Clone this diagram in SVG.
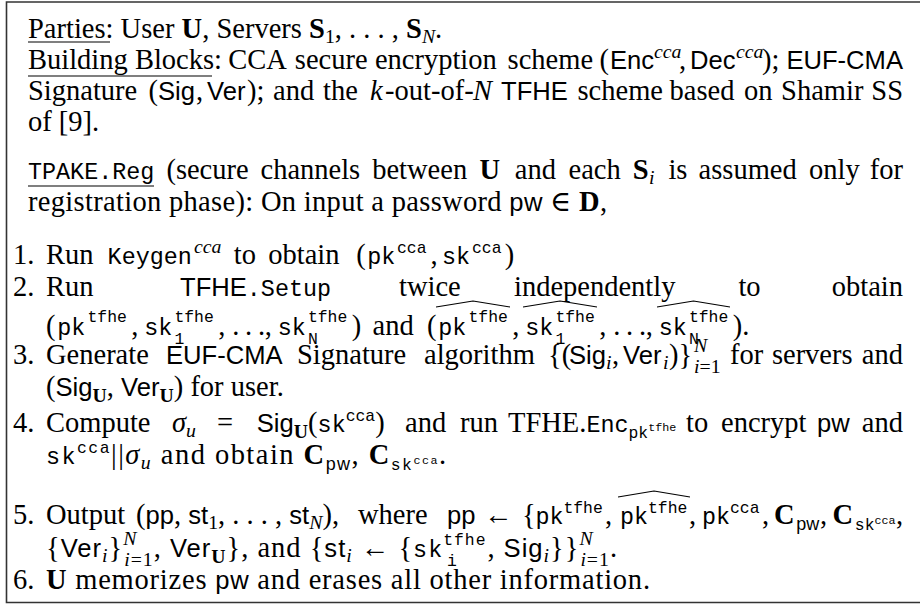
<svg xmlns="http://www.w3.org/2000/svg" width="920" height="604" viewBox="0 0 920 604">
<style>
  text { font-family: "Liberation Serif", "DejaVu Serif", serif; font-size: 28.5px; fill: #000; }
  .sf { font-family: "Liberation Sans", "DejaVu Sans", sans-serif; font-size: 25.6px; }
  .tt { font-family: "Liberation Mono", "DejaVu Sans Mono", monospace; font-size: 23.4px; }
  .bf { font-weight: bold; }
  .it { font-style: italic; }
  .sc { font-size: 19.8px; }
  .scs { font-family: "Liberation Sans", "DejaVu Sans", sans-serif; font-size: 18px; }
  .sct { font-family: "Liberation Mono", "DejaVu Sans Mono", monospace; font-size: 16.4px; }
  .scct { font-family: "Liberation Mono", "DejaVu Sans Mono", monospace; font-size: 11.7px; }
  .rule { stroke: #000; stroke-width: 1.2; fill: none; }
  .frame { stroke: #333; stroke-width: 1.6; fill: none; }
  .hat { stroke: #000; stroke-width: 1.2; fill: none; stroke-linejoin: round; }
</style>

<!-- frame, open on the right -->
<g id="frame">
  <path class="frame" d="M920,2 H6.5 V602.5 H920"/>
</g>

<!-- parties and building blocks -->
<g id="parties">
  <text x="28" y="38">Parties: User <tspan class="bf">U</tspan>, Servers <tspan class="bf">S</tspan><tspan class="sc" y="43">1</tspan><tspan y="38">, . . . , </tspan><tspan class="bf">S</tspan><tspan class="sc it" y="43">N</tspan><tspan y="38">.</tspan></text>
  <line class="rule" x1="28" y1="42" x2="110" y2="42"/>
</g>

<g id="blocks">
  <text y="69"><tspan x="28">Building Blocks:</tspan><tspan x="228.3">CCA</tspan><tspan x="294.8">secure</tspan><tspan x="374.9">encryption</tspan><tspan x="507.6">scheme</tspan><tspan x="599.5">(</tspan><tspan class="sf" x="609.9">Enc</tspan><tspan class="sc it" x="654" y="58">cca</tspan><tspan x="679" y="69">,</tspan><tspan class="sf" x="690">Dec</tspan><tspan class="sc it" x="736" y="58">cca</tspan><tspan x="762" y="69">);</tspan><tspan class="sf" x="903" text-anchor="end">EUF-CMA</tspan></text>
  <line class="rule" x1="28" y1="76" x2="212" y2="76"/>
  <text y="100"><tspan x="28">Signature</tspan><tspan x="148.6">(</tspan><tspan class="sf" x="158">Sig</tspan><tspan x="196">,</tspan><tspan class="sf" x="207">Ver</tspan><tspan x="247">);</tspan><tspan x="273">and</tspan><tspan x="323">the</tspan><tspan class="it" x="370">k</tspan><tspan x="385">-out-of-</tspan><tspan class="it" x="473">N</tspan><tspan class="sf" x="501">TFHE</tspan><tspan x="577.5">scheme</tspan><tspan x="669.5">based</tspan><tspan x="744">on</tspan><tspan x="781.1">Shamir</tspan><tspan x="903" text-anchor="end">SS</tspan></text>
  <text x="28" y="131">of [9].</text>
</g>

<!-- registration paragraph -->
<g id="reg-intro">
  <text y="179"><tspan class="tt" x="28">TPAKE.Reg</tspan><tspan x="166.4">(secure</tspan><tspan x="260.5">channels</tspan><tspan x="372.2">between</tspan><tspan class="bf" x="479.4">U</tspan><tspan x="514.8">and</tspan><tspan x="568.5">each</tspan><tspan class="bf" x="632.7">S</tspan><tspan class="sc it" x="649" y="184">i</tspan><tspan x="668.4" y="179">is</tspan><tspan x="698.6">assumed</tspan><tspan x="809">only</tspan><tspan x="903" text-anchor="end">for</tspan></text>
  <line class="rule" x1="28" y1="186" x2="154" y2="186"/>
  <text x="28" y="211" textLength="579" lengthAdjust="spacing">registration phase): On input a password <tspan class="sf">pw</tspan> ∈ <tspan class="bf">D</tspan>,</text>
</g>

<!-- step 1 -->
<g id="step1">
  <text x="13" y="264">1.</text>
  <text y="264"><tspan x="46">Run</tspan><tspan class="tt" x="107.6">Keygen</tspan><tspan class="sc it" x="194" y="253">cca</tspan><tspan x="233.8" y="264">to</tspan><tspan x="268.3">obtain</tspan><tspan x="356.3">(</tspan><tspan class="tt" x="367.3">pk</tspan><tspan class="sct" x="397" y="253">cca</tspan><tspan x="430.6" y="264">,</tspan><tspan class="tt" x="442">sk</tspan><tspan class="sct" x="472" y="253">cca</tspan><tspan x="504.8" y="264">)</tspan></text>
</g>

<!-- step 2 -->
<g id="step2">
  <text x="13" y="296">2.</text>
  <text y="296"><tspan x="46">Run</tspan><tspan class="sf" x="180">TFHE</tspan><tspan class="tt">.Setup</tspan><tspan x="399">twice</tspan><tspan x="514">independently</tspan><tspan x="738.4">to</tspan><tspan x="903" text-anchor="end">obtain</tspan></text>
  <text y="335"><tspan x="46">(</tspan><tspan class="tt" x="57.2">pk</tspan><tspan class="sct" x="87.5" y="322">tfhe</tspan><tspan x="131.3" y="335">,</tspan><tspan class="tt" x="144.2">sk</tspan><tspan class="sct" x="174.4" y="322">tfhe</tspan><tspan class="sct" x="174.4" y="343.5">1</tspan><tspan x="218.3" y="335">,</tspan><tspan x="232.2">.</tspan><tspan x="245">.</tspan><tspan x="257.9">.</tspan><tspan x="264.8">,</tspan><tspan class="tt" x="277.7">sk</tspan><tspan class="sct" x="307.9" y="322">tfhe</tspan><tspan class="sct" x="307.9" y="343.5">N</tspan><tspan x="351.7" y="335">)</tspan><tspan x="372.6">and</tspan><tspan x="427">(</tspan><tspan class="tt" x="438.3">pk</tspan><tspan class="sct" x="468.5" y="322">tfhe</tspan><tspan x="512.3" y="335">,</tspan><tspan class="tt" x="525.2">sk</tspan><tspan class="sct" x="555.4" y="322">tfhe</tspan><tspan class="sct" x="555.4" y="343.5">1</tspan><tspan x="599.3" y="335">,</tspan><tspan x="613.2">.</tspan><tspan x="626.1">.</tspan><tspan x="638.9">.</tspan><tspan x="645.8">,</tspan><tspan class="tt" x="658.7">sk</tspan><tspan class="sct" x="688.9" y="322">tfhe</tspan><tspan class="sct" x="688.9" y="343.5">N</tspan><tspan x="732.8" y="335">).</tspan></text>
  <path class="hat" d="M436,307 L473,301 L510,307"/>
  <path class="hat" d="M523,307 L560,301 L597,307"/>
  <path class="hat" d="M657,307 L693.5,301 L730,307"/>
</g>

<!-- step 3 -->
<g id="step3">
  <text x="13" y="364">3.</text>
  <text y="364"><tspan x="46">Generate</tspan><tspan class="sf" x="166">EUF-CMA</tspan><tspan x="297">Signature</tspan><tspan x="424">algorithm</tspan><tspan x="548">{(</tspan><tspan class="sf" x="569">Sig</tspan><tspan class="sc it" x="606" y="369">i</tspan><tspan x="612" y="364">,</tspan><tspan class="sf" x="623">Ver</tspan><tspan class="sc it" x="663" y="369">i</tspan><tspan x="669" y="364">)}</tspan><tspan class="sc it" x="694" y="352">N</tspan><tspan class="sc" x="694" y="373"><tspan class="it">i</tspan>=1</tspan><tspan x="730" y="364">for</tspan><tspan x="771.9">servers</tspan><tspan x="903" text-anchor="end">and</tspan></text>
  <text x="46" y="396">(<tspan class="sf">Sig</tspan><tspan class="sc bf" y="402">U</tspan><tspan y="396">, </tspan><tspan class="sf">Ver</tspan><tspan class="sc bf" y="402">U</tspan><tspan y="396">) for user.</tspan></text>
</g>

<!-- step 4 -->
<g id="step4">
  <text x="13" y="432">4.</text>
  <text y="432"><tspan x="46">Compute</tspan><tspan class="it" x="171.9">σ</tspan><tspan class="sc it" y="437">u</tspan><tspan x="216.9" y="432">=</tspan><tspan class="sf" x="256.8">Sig</tspan><tspan class="sc bf" y="438">U</tspan><tspan y="432">(</tspan><tspan class="tt">sk</tspan><tspan class="sct" y="421">cca</tspan><tspan y="432">)</tspan><tspan x="405">and</tspan><tspan x="460">run</tspan><tspan x="508">TFHE.</tspan><tspan class="tt">Enc</tspan><tspan class="sct" y="438">pk</tspan><tspan class="scct" y="431">tfhe</tspan><tspan x="686" y="432">to</tspan><tspan x="721">encrypt</tspan><tspan class="sf" x="817">pw</tspan><tspan x="903" text-anchor="end">and</tspan></text>
  <text x="46" y="464" textLength="400" lengthAdjust="spacing"><tspan class="tt">sk</tspan><tspan class="sct" y="453">cca</tspan><tspan y="464">||</tspan><tspan class="it">σ</tspan><tspan class="sc it" y="469">u</tspan><tspan y="464"> and obtain </tspan><tspan class="bf">C</tspan><tspan class="scs" y="470">pw</tspan><tspan y="464">, </tspan><tspan class="bf">C</tspan><tspan class="sct" y="470">sk</tspan><tspan class="scct" y="464">cca</tspan><tspan y="464">.</tspan></text>
</g>

<!-- step 5 -->
<g id="step5">
  <text x="13" y="524">5.</text>
  <text y="524"><tspan x="46">Output</tspan><tspan x="136">(</tspan><tspan class="sf">pp</tspan><tspan>, </tspan><tspan class="sf">st</tspan><tspan class="sc" y="529">1</tspan><tspan y="524">, . . . , </tspan><tspan class="sf">st</tspan><tspan class="sc it" y="529">N</tspan><tspan y="524">),</tspan><tspan x="358">where</tspan><tspan class="sf" x="447">pp</tspan><tspan x="484">←</tspan><tspan x="522">{</tspan><tspan class="tt" x="535.4">pk</tspan><tspan class="sct" x="563.4" y="513">tfhe</tspan><tspan x="605" y="524">,</tspan><tspan class="tt" x="620">pk</tspan><tspan class="sct" x="648" y="513">tfhe</tspan><tspan x="689" y="524">,</tspan><tspan class="tt" x="702">pk</tspan><tspan class="sct" x="730" y="513">cca</tspan><tspan x="762" y="524">,</tspan><tspan class="bf" x="774">C</tspan><tspan class="scs" x="796.2" y="530">pw</tspan><tspan x="820" y="524">,</tspan><tspan class="bf" x="832.6">C</tspan><tspan class="sct" x="854.8" y="530">sk</tspan><tspan class="scct" y="524">cca</tspan><tspan x="903" y="524" text-anchor="end">,</tspan></text>
  <path class="hat" d="M618,497 L654,491 L690,497"/>
  <text x="46" y="557" textLength="571" lengthAdjust="spacing">{<tspan class="sf">Ver</tspan><tspan class="sc it" y="562">i</tspan><tspan y="557">}</tspan><tspan class="sc it" y="545">N</tspan><tspan class="sc" dx="-13.2" y="566"><tspan class="it">i</tspan>=1</tspan><tspan y="557">, </tspan><tspan class="sf">Ver</tspan><tspan class="sc bf" y="563">U</tspan><tspan y="557">}, and {</tspan><tspan class="sf">st</tspan><tspan class="sc it" y="562">i</tspan><tspan y="557"> ← {</tspan><tspan class="tt">sk</tspan><tspan class="sct" y="545">tfhe</tspan><tspan class="sct" dx="-39.4" y="566">i</tspan><tspan dx="29.5" y="557">, </tspan><tspan class="sf">Sig</tspan><tspan class="sc it" y="562">i</tspan><tspan y="557">}}</tspan><tspan class="sc it" y="545">N</tspan><tspan class="sc" dx="-13.2" y="566"><tspan class="it">i</tspan>=1</tspan><tspan y="557">.</tspan></text>
</g>

<!-- step 6 -->
<g id="step6">
  <text x="13" y="589">6.</text>
  <text x="46" y="589" textLength="604" lengthAdjust="spacing"><tspan class="bf">U</tspan> memorizes <tspan class="sf">pw</tspan> and erases all other information.</text>
</g>
</svg>
